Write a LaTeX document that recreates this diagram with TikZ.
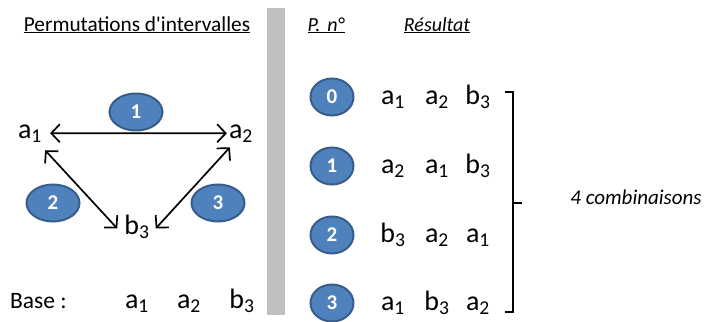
\documentclass[tikz,border=0pt]{standalone}
\usepackage{fontspec}
\setmainfont{Carlito}
\usetikzlibrary{arrows.meta,shapes.geometric}
\definecolor{pastille}{RGB}{79,129,189}
\definecolor{pastillebord}{RGB}{56,93,138}
\definecolor{barre}{RGB}{191,191,191}

\begin{document}
\begin{tikzpicture}[x=1pt,y=-1pt]
\tikzstyle{every node}+=[inner sep=0pt]
\tikzstyle{rond}=[ellipse,draw=pastillebord,line width=2pt,fill=pastille,minimum width=53pt,minimum height=37pt,text=white,font=\fontsize{21}{21}\selectfont\bfseries]
\tikzstyle{petitrond}=[rond,minimum width=43pt,minimum height=37pt]
\tikzstyle{lettre}=[anchor=base,font=\fontsize{28}{28}\selectfont]
\tikzstyle{titre}=[anchor=base,font=\fontsize{20}{20}\selectfont]
\tikzstyle{fleche}=[black,line width=1.7pt,{Straight Barb[length=8.5pt,width=18pt]}-{Straight Barb[length=8.5pt,width=18pt]}]
\useasboundingbox (0,0) rectangle (708,321);
\fill [barre] (267,8) rectangle (285,315);
\node [titre,font=\fontsize{21.3}{21}\selectfont] (permut) at (137,31) {\underline{Permutations d\textquotesingle intervalles}};
\node [titre] (pno) at (326,31) {\underline{\itshape P.\hspace{7pt}n°}};
\node [titre] (resultat) at (437,31) {\underline{\itshape Résultat}};
\node [lettre] (a1) at (30,138) {a\textsubscript{1}};
\node [lettre] (a2) at (241,138) {a\textsubscript{2}};
\node [lettre] (b3) at (137,234) {b\textsubscript{3}};
\node [rond] (p1) at (136,112) {1};
\node [rond] (p2) at (53,203) {2};
\node [rond] (p3) at (218,203) {3};
\draw [fleche,shorten <=8pt,shorten >=2pt] (a1.east) -- (a2.west);
\draw [fleche] ([shift={(3,8)}]a1.south east) -- ([shift={(-7,2)}]b3.west);
\draw [fleche] ([shift={(1,5)}]a2.south west) -- ([shift={(6,2)}]b3.east);
\node [lettre,anchor=base west,font=\fontsize{23.5}{23}\selectfont] (base) at (10,308) {Base :};
\node [lettre] (base1) at (137,308) {a\textsubscript{1}};
\node [lettre] (base2) at (189,308) {a\textsubscript{2}};
\node [lettre] (base3) at (242,308) {b\textsubscript{3}};
\node [petitrond] (n0) at (332,97) {0};
\node [petitrond] (n1) at (332,166) {1};
\node [petitrond] (n2) at (332,235) {2};
\node [petitrond] (n3) at (332,303) {3};
\node [lettre] (r01) at (393,104) {a\textsubscript{1}};
\node [lettre] (r02) at (437,104) {a\textsubscript{2}};
\node [lettre] (r03) at (478,104) {b\textsubscript{3}};
\node [lettre] (r11) at (393,173) {a\textsubscript{2}};
\node [lettre] (r12) at (437,173) {a\textsubscript{1}};
\node [lettre] (r13) at (478,173) {b\textsubscript{3}};
\node [lettre] (r21) at (393,242) {b\textsubscript{3}};
\node [lettre] (r22) at (437,242) {a\textsubscript{2}};
\node [lettre] (r23) at (478,242) {a\textsubscript{1}};
\node [lettre] (r31) at (393,310) {a\textsubscript{1}};
\node [lettre] (r32) at (437,310) {b\textsubscript{3}};
\node [lettre] (r33) at (478,310) {a\textsubscript{2}};
\coordinate (haut) at (505,92);
\coordinate (bas) at (505,312);
\draw [black,line width=1.5pt] (haut) -- ++(8,0) -- ++(0,220) -- (bas);
\draw [black,line width=1.5pt] (513,203) -- (522,203);
\node [titre,font=\fontsize{21}{21}\selectfont\itshape] (combi) at (636,204) {4 combinaisons};
\end{tikzpicture}
\end{document}
